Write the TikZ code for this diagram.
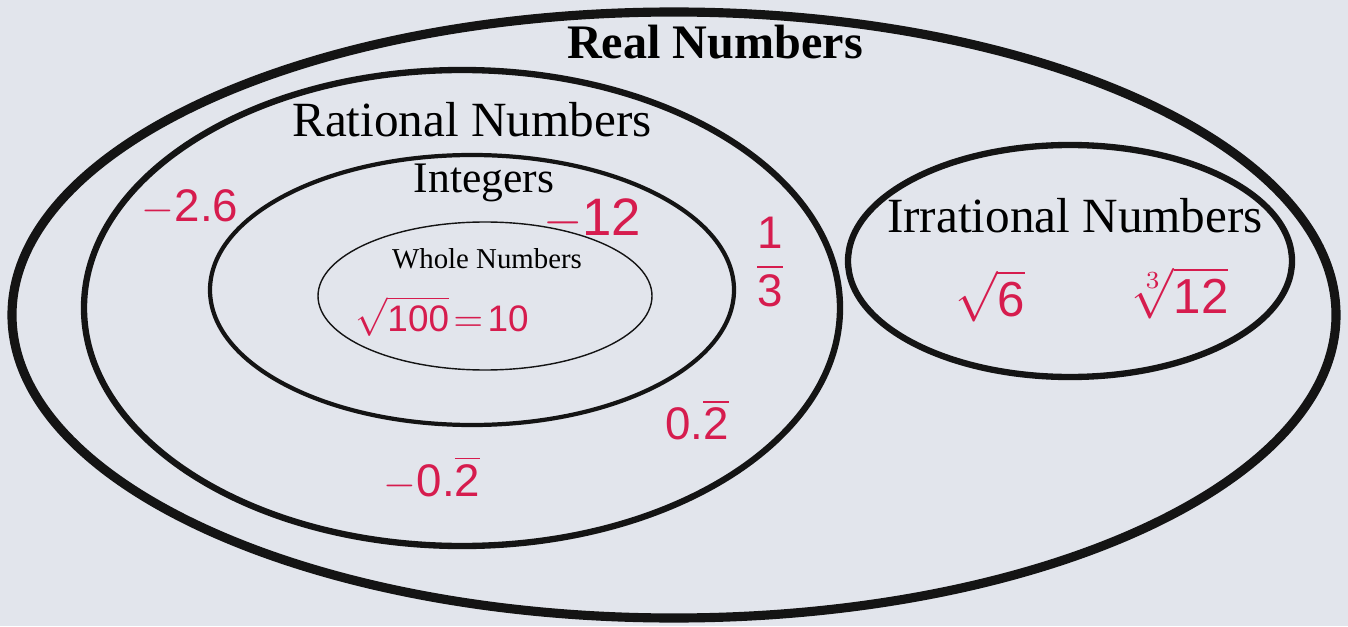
\documentclass[tikz,border=0pt]{standalone}
\usepackage{amsmath}
\usepackage{fontspec}
\setmainfont{Liberation Serif}
\setsansfont{Liberation Sans}
\usepackage{xcolor}
\definecolor{paper}{RGB}{226,229,236}
\definecolor{marker}{RGB}{214,28,78}
\newcommand{\hw}[1]{\text{#1}}
\usetikzlibrary{positioning}

\begin{document}
\begin{tikzpicture}[
  set/.style = {draw=black!92},
  title/.style = {font=\fontsize{14}{16}\selectfont, inner sep=0pt},
  pen/.style = {text=marker, font=\sffamily\fontsize{13}{15}\selectfont, inner sep=0pt},
]
\fill[paper] (0,0) rectangle (13.48,6.26);
\useasboundingbox (0,0) rectangle (13.48,6.26);

% the sets
\draw[set, line width=2.6pt] (6.74,3.11) ellipse [x radius=6.62, y radius=3.03];
\draw[set, line width=1.8pt] (4.62,3.18) ellipse [x radius=3.78, y radius=2.38];
\draw[set, line width=1.2pt] (4.72,3.36) ellipse [x radius=2.62, y radius=1.35];
\draw[set, line width=0.4pt] (4.85,3.30) ellipse [x radius=1.67, y radius=0.74];
\draw[set, line width=1.8pt] (10.70,3.65) ellipse [x radius=2.22, y radius=1.16];

% set names
\node[title, font=\bfseries\fontsize{13.7}{16}\selectfont] at (7.15,5.84) (real) {Real Numbers};
\node[title] at (4.72,5.06) (rat)  {Rational Numbers};
\node[title, font=\fontsize{12.4}{14}\selectfont] at (4.84,4.43) (int) {Integers};
\node[title, font=\fontsize{8.2}{10}\selectfont] at (4.87,3.67) (whole) {Whole Numbers};
\node[title] at (10.75,4.10) (irr) {Irrational Numbers};

% handwritten members
\node[pen] at (1.90,4.19) (mtwosix) {$-\hw{2.6}$};
\node[pen, font=\sffamily\fontsize{15}{17}\selectfont] at (5.92,4.07) (mtwelve) {$-\hw{12}$};
\node[pen] at (7.70,3.64) (third) {$\dfrac{\hw{1}}{\hw{3}}$};
\node[pen, font=\sffamily\fontsize{10.5}{12}\selectfont] at (4.42,3.10) (ten) {$\sqrt{\hw{100}}\!=\!\hw{10}$};
\node[pen] at (6.97,2.06) (rep) {$\hw{0.}\overline{\hw{2}}$};
\node[pen] at (4.32,1.48) (mrep) {$-\hw{0.}\overline{\hw{2}}$};
\node[pen, font=\sffamily\fontsize{14}{16}\selectfont] at (9.90,3.30) (rsix) {$\sqrt{\hw{6}}$};
\node[pen, font=\sffamily\fontsize{14}{16}\selectfont] at (11.80,3.33) (cube) {$\sqrt[3]{\hw{12}}$};
\end{tikzpicture}
\end{document}
